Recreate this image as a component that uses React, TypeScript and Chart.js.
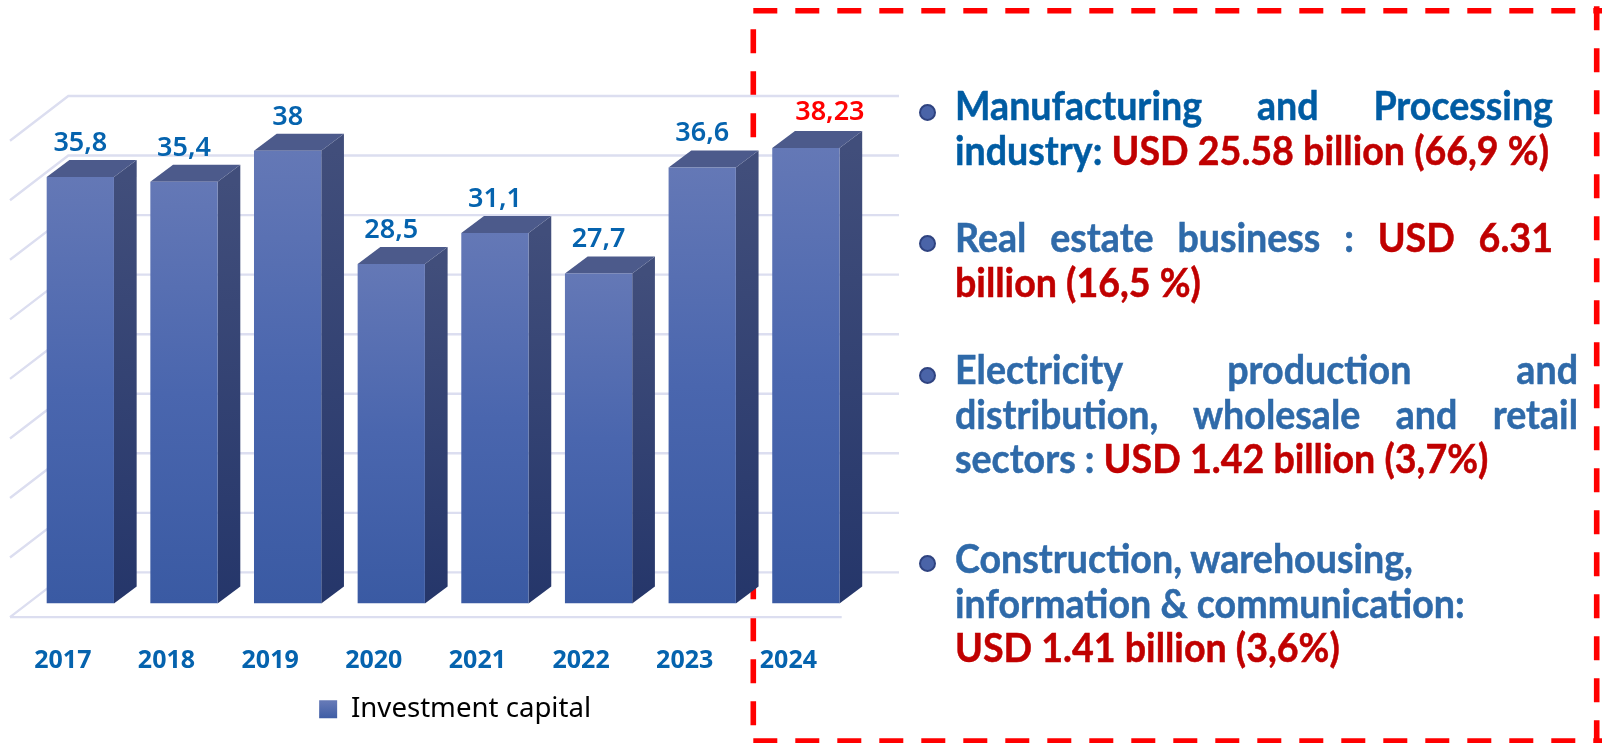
import React, { useEffect, useRef } from "react";
import { Chart, registerables } from "chart.js";

Chart.register(...registerables);

const years = ["2017", "2018", "2019", "2020", "2021", "2022", "2023", "2024"];
const investment = [35.8, 35.4, 38, 28.5, 31.1, 27.7, 36.6, 38.23];
const seriesName = "Investment capital";
const axisMax = 40;
const axisStep = 5;

const BLUE = "#2f6aa9";
const DEEP = "#005ca3";
const RED = "#c00000";

type Seg = [string, string];
const block1: Seg[][] = [
  [["Manufacturing and Processing", DEEP]],
  [["industry: ", DEEP], ["USD 25.58 billion (66,9 %)", RED]],
];
const block2: Seg[][] = [
  [["Real estate business : ", BLUE], ["USD 6.31", RED]],
  [["billion (16,5 %)", RED]],
];
const block3: Seg[][] = [
  [["Electricity production and", BLUE]],
  [["distribution, wholesale and retail", BLUE]],
  [["sectors : ", BLUE], ["USD 1.42 billion (3,7%)", RED]],
];
const block4: Seg[][] = [
  [["Construction, warehousing,", BLUE]],
  [["information & communication:", BLUE]],
  [["USD 1.41 billion (3,6%)", RED]],
];

const blocks = [
  { lines: block1, top: 105, bullet: 112, justify: [1553, 0] },
  { lines: block2, top: 237, bullet: 243, justify: [1553, 0] },
  { lines: block3, top: 369, bullet: 375, justify: [1578, 1578, 0] },
  { lines: block4, top: 558, bullet: 563, justify: [0, 0, 0] },
];

const TEXT_X = 955;
const LINE_H = 44.6;
const SCALE_X = 0.94;

const DX = 22.7;
const DY = 17;
const BACK_DX = 58.3;
const BACK_DY = 44.7;
const LEFT = 10;
const BACK_RISE = 31;

function vGrad(c: CanvasRenderingContext2D, y0: number, y1: number, stops: string[]) {
  const g = c.createLinearGradient(0, y0, 0, y1);
  stops.forEach((s, i) => g.addColorStop(i / (stops.length - 1), s));
  return g;
}

const scene = {
  id: "scene",
  beforeDatasetsDraw(chart: any) {
    const c: CanvasRenderingContext2D = chart.ctx;
    const y = chart.scales.y;
    c.save();
    // dashed frame sits behind the bars
    c.strokeStyle = "#ff0000";
    c.lineWidth = 5.6;
    c.setLineDash([24, 18]);
    const seg = (a: number, b: number, d: number, e: number) => {
      c.beginPath();
      c.moveTo(a, b);
      c.lineTo(d, e);
      c.stroke();
    };
    seg(753.3, 10.7, 1602, 10.7);
    seg(753.3, 741, 1602, 741);
    seg(753.3, 29.3, 753.3, 743);
    seg(1596.7, 6.3, 1596.7, 743);
    c.setLineDash([]);

    // wall + floor grid
    c.strokeStyle = "#dcdef0";
    c.lineWidth = 2.4;
    y.ticks.forEach((t: any) => {
      const py = y.getPixelForValue(t.value) - BACK_RISE;
      c.beginPath();
      c.moveTo(899, py);
      c.lineTo(LEFT + BACK_DX, py);
      c.lineTo(LEFT, py + BACK_DY);
      c.stroke();
    });
    const floorY = y.getPixelForValue(0) - BACK_RISE + BACK_DY;
    seg(LEFT, floorY, 841.7, floorY);

    // 3D faces
    const meta = chart.getDatasetMeta(0);
    meta.data.forEach((bar: any) => {
      const l = bar.x - bar.width / 2;
      const r = bar.x + bar.width / 2;
      c.fillStyle = vGrad(c, bar.y, bar.base, ["#414e7b", "#25366a"]);
      c.beginPath();
      c.moveTo(r, bar.y);
      c.lineTo(r + DX, bar.y - DY);
      c.lineTo(r + DX, bar.base - DY);
      c.lineTo(r, bar.base);
      c.closePath();
      c.fill();
      c.fillStyle = "#4c5a8b";
      c.beginPath();
      c.moveTo(l, bar.y);
      c.lineTo(l + DX, bar.y - DY);
      c.lineTo(r + DX, bar.y - DY);
      c.lineTo(r, bar.y);
      c.closePath();
      c.fill();
    });
    c.restore();
  },
  afterDatasetsDraw(chart: any) {
    const c: CanvasRenderingContext2D = chart.ctx;
    const meta = chart.getDatasetMeta(0);
    const last = investment.length - 1;
    c.save();
    c.textAlign = "center";
    c.textBaseline = "alphabetic";
    c.font = '600 27px "Noto Sans"';
    meta.data.forEach((bar: any, i: number) => {
      c.fillStyle = i === last ? "#ff0000" : "#0563ae";
      const text = String(investment[i]).replace(".", ",");
      c.fillText(text, bar.x + (i === last ? 24 : 0), bar.y - (i === last ? 27.7 : 26));
    });
    c.restore();
  },
  afterLayout(chart: any) {
    const lg = chart.legend;
    if (lg) {
      lg.left += 12;
      lg.right += 12;
      lg.top -= 10;
      lg.bottom -= 10;
    }
  },
};

export default function App() {
  const ref = useRef<HTMLCanvasElement>(null);
  useEffect(() => {
    const chart = new Chart(ref.current as HTMLCanvasElement, {
      type: "bar",
      data: {
        labels: years,
        datasets: [
          {
            label: seriesName,
            data: investment,
            barPercentage: 0.649,
            categoryPercentage: 1,
            backgroundColor: (ctx: any) => {
              const s = ctx.chart.scales.y;
              if (!s || ctx.raw === undefined) return "#4a64ab";
              return vGrad(ctx.chart.ctx, s.getPixelForValue(ctx.raw), s.getPixelForValue(0), [
                "#6478b6",
                "#4a66ae",
                "#3a5aa3",
              ]);
            },
          },
        ],
      },
      options: {
        animation: false,
        responsive: false,
        devicePixelRatio: 1,
        layout: { padding: { left: 28.5, right: 744.3, top: 127, bottom: 0 } },
        scales: {
          x: {
            grid: { display: false },
            border: { display: false },
            ticks: {
              color: "#0563ae",
              font: { family: '"Noto Sans"', size: 25, weight: "bold" },
              labelOffset: -17.5,
              padding: 34,
              maxRotation: 0,
            },
            afterFit(s: any) {
              s.height = 96;
            },
          },
          y: { display: false, min: 0, max: axisMax, ticks: { stepSize: axisStep } },
        },
        plugins: {
          tooltip: { enabled: false },
          legend: {
            position: "bottom",
            labels: {
              font: { family: '"Noto Sans"', size: 27.6 },
              color: "#2b2f5e",
              boxWidth: 18,
              boxHeight: 18,
              padding: 6,
              generateLabels: (ch: any) => [
                {
                  text: seriesName,
                  fillStyle: vGrad(ch.ctx, 702, 720, ["#6478b6", "#3a5aa3"]),
                  strokeStyle: "rgba(0,0,0,0)",
                  lineWidth: 0,
                  datasetIndex: 0,
                },
              ],
            },
          },
        },
      } as any,
      plugins: [scene],
    });
    return () => chart.destroy();
  }, []);

  return (
    <div style={{ position: "absolute", left: 0, top: 0, width: 1602, height: 743, overflow: "hidden", background: "#fff" }}>
      <canvas ref={ref} width={1602} height={743} style={{ display: "block", position: "absolute", left: 0, top: 0 }} />
      {blocks.map((b, bi) => (
        <React.Fragment key={bi}>
          <div
            style={{
              position: "absolute",
              left: 918.5,
              top: b.bullet - 8.5,
              width: 13,
              height: 13,
              borderRadius: "50%",
              background: "#4a64a8",
              border: "2px solid #2f4380",
            }}
          />
          {b.lines.map((line, li) => {
            const end = b.justify[li];
            return (
              <div
                key={li}
                style={{
                  position: "absolute",
                  left: TEXT_X,
                  top: b.top + li * LINE_H - 24,
                  height: 48,
                  lineHeight: "48px",
                  width: end ? (end - TEXT_X) / SCALE_X : undefined,
                  whiteSpace: end ? "normal" : "nowrap",
                  textAlign: end ? "justify" : "left",
                  textAlignLast: end ? "justify" : "left",
                  transform: `scaleX(${SCALE_X})`,
                  transformOrigin: "left center",
                  fontFamily: "Lato",
                  fontWeight: 700,
                  fontSize: 40,
                  WebkitTextStroke: "0.5px currentColor",
                }}
              >
                {line.map((s, si) => (
                  <span key={si} style={{ color: s[1] }}>
                    {s[0]}
                  </span>
                ))}
              </div>
            );
          })}
        </React.Fragment>
      ))}
    </div>
  );
}
